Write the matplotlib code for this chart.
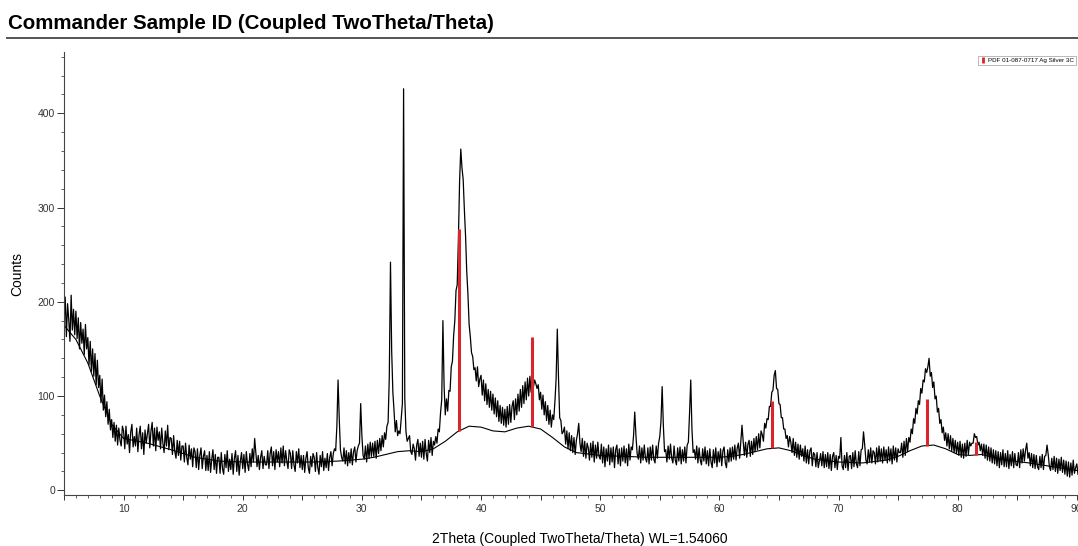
import numpy as np
import matplotlib
matplotlib.use('Agg')
import matplotlib.pyplot as plt
from matplotlib.ticker import MultipleLocator, FuncFormatter
from matplotlib.lines import Line2D

plt.rcParams['font.family'] = ['Liberation Sans', 'DejaVu Sans']

# scan: 5.0 deg onwards, one count value every 0.1 deg (one row = one degree)
start_angle = 5.0
step = 0.1
counts = [
    176, 205, 163, 198, 181, 158, 207, 170, 192, 165,  # 5
    190, 161, 183, 150, 178, 156, 171, 144, 176, 150,  # 6
    162, 133, 158, 126, 150, 121, 145, 112, 138, 109,  # 7
    122, 93, 118, 85, 101, 78, 94, 70, 86, 64,  # 8
    75, 56, 72, 52, 69, 48, 66, 53, 47, 68,  # 9
    63, 44, 68, 49, 59, 40, 62, 70, 46, 57,  # 10
    47, 66, 41, 59, 68, 44, 61, 38, 64, 50,  # 11
    60, 70, 45, 63, 72, 47, 66, 42, 67, 53,  # 12
    62, 44, 66, 50, 40, 63, 47, 69, 43, 56,  # 13
    55, 38, 58, 41, 34, 53, 37, 52, 32, 47,  # 14
    47, 30, 50, 35, 27, 48, 33, 44, 25, 45,  # 15
    41, 24, 44, 22, 37, 45, 23, 36, 42, 21,  # 16
    37, 21, 41, 19, 33, 43, 22, 38, 18, 35,  # 17
    35, 18, 40, 23, 17, 38, 24, 42, 20, 33,  # 18
    22, 39, 17, 34, 42, 20, 37, 16, 31, 40,  # 19
    23, 38, 19, 41, 28, 21, 39, 25, 44, 30,  # 20
    55, 40, 25, 37, 22, 35, 42, 23, 36, 27,  # 21
    27, 42, 23, 39, 46, 26, 41, 22, 43, 30,  # 22
    41, 25, 45, 29, 47, 26, 42, 31, 23, 43,  # 23
    39, 23, 42, 27, 20, 41, 29, 44, 24, 37,  # 24
    22, 37, 19, 34, 41, 24, 18, 36, 25, 39,  # 25
    35, 20, 40, 24, 17, 37, 25, 41, 21, 34,  # 26
    24, 39, 21, 35, 41, 26, 39, 44, 42, 68,  # 27
    117, 76, 43, 35, 31, 45, 28, 42, 26, 40,  # 28
    29, 44, 27, 41, 46, 30, 42, 47, 50, 92,  # 29
    58, 37, 33, 47, 30, 49, 34, 51, 36, 50,  # 30
    36, 52, 34, 53, 39, 55, 42, 58, 46, 61,  # 31
    54, 68, 72, 120, 242, 148, 104, 84, 62, 74,  # 32
    58, 63, 60, 76, 92, 426, 98, 62, 52, 55,  # 33
    58, 41, 38, 49, 44, 32, 48, 54, 36, 50,  # 34
    35, 52, 33, 54, 39, 31, 53, 40, 56, 37,  # 35
    52, 48, 57, 50, 65, 62, 82, 96, 180, 110,  # 36
    80, 97, 84, 106, 105, 131, 137, 164, 180, 212,  # 37
    218, 266, 328, 362, 342, 330, 298, 270, 232, 208,  # 38
    176, 163, 146, 142, 128, 130, 116, 131, 110, 118,  # 39
    122, 101, 117, 95, 113, 91, 107, 88, 105, 85,  # 40
    102, 81, 98, 78, 95, 73, 90, 71, 88, 69,  # 41
    86, 67, 89, 70, 91, 72, 89, 95, 75, 97,  # 42
    80, 102, 84, 107, 88, 111, 92, 115, 96, 119,  # 43
    100, 121, 104, 125, 110, 117, 113, 108, 112, 96,  # 44
    104, 86, 101, 80, 94, 74, 90, 70, 85, 67,  # 45
    80, 75, 94, 118, 171, 120, 77, 74, 60, 62,  # 46
    67, 49, 63, 44, 61, 42, 58, 40, 56, 38,  # 47
    53, 60, 71, 50, 41, 55, 36, 52, 34, 50,  # 48
    45, 32, 50, 35, 52, 30, 48, 34, 51, 36,  # 49
    33, 49, 29, 46, 25, 44, 31, 48, 27, 45,  # 50
    30, 46, 24, 43, 48, 28, 44, 26, 45, 31,  # 51
    47, 29, 44, 26, 49, 32, 46, 43, 58, 83,  # 52
    58, 39, 33, 47, 29, 45, 32, 48, 34, 30,  # 53
    45, 28, 46, 32, 48, 33, 29, 47, 34, 50,  # 54
    57, 73, 110, 69, 41, 43, 30, 47, 33, 49,  # 55
    34, 29, 47, 32, 27, 45, 31, 46, 28, 43,  # 56
    31, 46, 29, 48, 51, 82, 117, 65, 40, 43,  # 57
    33, 47, 29, 45, 32, 27, 44, 31, 46, 28,  # 58
    42, 26, 44, 30, 24, 43, 29, 45, 25, 41,  # 59
    30, 44, 26, 42, 46, 29, 24, 43, 30, 45,  # 60
    31, 46, 33, 48, 32, 45, 50, 34, 51, 69,  # 61
    52, 37, 51, 35, 49, 53, 36, 52, 38, 55,  # 62
    41, 57, 43, 60, 45, 63, 59, 52, 71, 66,  # 63
    76, 75, 89, 89, 104, 106, 122, 127, 108, 107,  # 64
    92, 91, 77, 77, 65, 65, 55, 58, 46, 57,  # 65
    51, 40, 55, 37, 51, 35, 49, 33, 48, 36,  # 66
    44, 31, 47, 29, 43, 28, 42, 45, 26, 40,  # 67
    38, 25, 40, 24, 31, 39, 26, 41, 24, 38,  # 68
    25, 40, 23, 38, 21, 36, 40, 24, 37, 22,  # 69
    36, 34, 56, 26, 22, 37, 24, 40, 21, 36,  # 70
    37, 23, 40, 25, 42, 28, 24, 41, 26, 43,  # 71
    44, 62, 48, 32, 28, 43, 30, 45, 29, 42,  # 72
    40, 28, 45, 30, 47, 31, 44, 29, 46, 32,  # 73
    43, 29, 46, 31, 44, 28, 47, 32, 45, 30,  # 74
    44, 40, 40, 50, 35, 52, 37, 55, 41, 56,  # 75
    51, 65, 60, 76, 71, 87, 81, 95, 91, 108,  # 76
    103, 117, 115, 129, 125, 131, 140, 121, 125, 109,  # 77
    115, 97, 100, 83, 87, 71, 75, 61, 67, 53,  # 78
    61, 47, 60, 44, 58, 42, 55, 40, 53, 39,  # 79
    51, 37, 52, 35, 49, 34, 50, 36, 53, 38,  # 80
    51, 47, 50, 50, 60, 56, 57, 48, 51, 42,  # 81
    49, 37, 49, 34, 48, 32, 46, 31, 45, 29,  # 82
    43, 28, 42, 26, 41, 24, 40, 27, 43, 25,  # 83
    39, 25, 42, 23, 38, 26, 41, 24, 39, 27,  # 84
    26, 40, 24, 43, 29, 44, 31, 43, 50, 34,  # 85
    40, 26, 39, 24, 38, 23, 37, 25, 22, 36,  # 86
    24, 38, 22, 36, 37, 48, 38, 25, 21, 34,  # 87
    22, 36, 20, 34, 18, 33, 21, 35, 19, 32,  # 88
    17, 31, 15, 30, 14, 29, 16, 32, 18, 24,  # 89
    28, 17,  # 90
]
two_theta = start_angle + step * np.arange(len(counts))

# fitted background curve
bg_angle = [5, 6, 7, 8, 9, 10, 12, 14, 16, 18, 20, 22, 24, 26, 28, 30, 31, 32, 33, 34,
            35, 36, 37, 38, 39, 40, 41, 42, 43, 44, 45, 46, 47, 48, 50, 52, 54, 56, 58, 60,
            61, 62, 63, 64, 65, 66, 67, 68, 70, 72, 74, 75, 76, 77, 78, 79, 80, 81, 82, 83,
            84, 86, 88, 90]
bg_counts = [175, 160, 135, 100, 70, 55, 50, 43, 35, 31, 30, 30, 30, 30, 31, 33, 35, 38, 41, 42,
             41, 44, 52, 62, 68, 67, 63, 62, 66, 68, 65, 56, 46, 40, 37, 36, 35, 35, 35, 35,
             36, 38, 41, 44, 45, 42, 37, 33, 30, 29, 32, 36, 42, 47, 48, 44, 38, 37, 38, 35,
             32, 29, 25, 21]

# PDF 01-087-0717 Ag reference sticks (height above background)
ag_angle = [38.12, 44.30, 64.44, 77.40, 81.54]
ag_height = [215, 96, 50, 49, 14]
ref_label = 'PDF 01-087-0717 Ag Silver 3C'

red = '#d9262c'

fig = plt.figure(figsize=(10.78, 5.46), dpi=100)
ax = fig.add_axes([64 / 1078, 51 / 546, 1 - 64 / 1078, 443 / 546])

ax.plot(two_theta, counts, color='black', lw=0.9)
ax.plot(bg_angle, bg_counts, color='black', lw=0.8)
base = np.interp(ag_angle, bg_angle, bg_counts)
ax.vlines(ag_angle, base, base + np.array(ag_height), color=red, lw=2.2, zorder=3)

ax.set_xlim(5, 90.1)
ax.set_ylim(-5, 465)
for s in ['top', 'right']:
    ax.spines[s].set_visible(False)
for s in ['left', 'bottom']:
    ax.spines[s].set_color('#444444')
    ax.spines[s].set_linewidth(0.8)

ax.xaxis.set_major_locator(MultipleLocator(5))
ax.xaxis.set_minor_locator(MultipleLocator(1))
ax.xaxis.set_major_formatter(FuncFormatter(lambda v, p: '%d' % v if v % 10 == 0 else ''))
ax.yaxis.set_major_locator(MultipleLocator(100))
ax.yaxis.set_minor_locator(MultipleLocator(20))
ax.tick_params(axis='x', which='major', length=3.8, width=0.7, pad=3, labelsize=7.5, colors='#333333')
ax.tick_params(axis='x', which='minor', length=2, width=0.6, colors='#444444')
ax.tick_params(axis='y', which='major', length=5, width=0.7, pad=1.5, labelsize=7.5, colors='#333333')
ax.tick_params(axis='y', which='minor', length=2.5, width=0.6, colors='#444444')

ax.set_ylabel('Counts', fontsize=10)
ax.yaxis.set_label_coords(-0.039, 0.5)
ax.set_xlabel('2Theta (Coupled TwoTheta/Theta) WL=1.54060', fontsize=10)
ax.xaxis.set_label_coords(0.509, -0.083)

handle = Line2D([], [], color=red, marker='|', markersize=5, markeredgewidth=2, linestyle='none')
leg = ax.legend([handle], [ref_label], loc='upper right', bbox_to_anchor=(0.998, 0.992),
                fontsize=4.5, frameon=True, fancybox=False, handlelength=0.8,
                handletextpad=0.5, borderpad=0.3, borderaxespad=0)
leg.get_frame().set_edgecolor('#999999')
leg.get_frame().set_linewidth(0.6)

fig.text(8 / 1078, 1 - 29 / 546, 'Commander Sample ID (Coupled TwoTheta/Theta)',
         fontsize=14.8, fontweight='bold', ha='left', va='baseline')
fig.add_artist(Line2D([7 / 1078, 1], [1 - 38 / 546, 1 - 38 / 546], color='#555555', lw=1.4))

fig.savefig('out.png', dpi=100)
